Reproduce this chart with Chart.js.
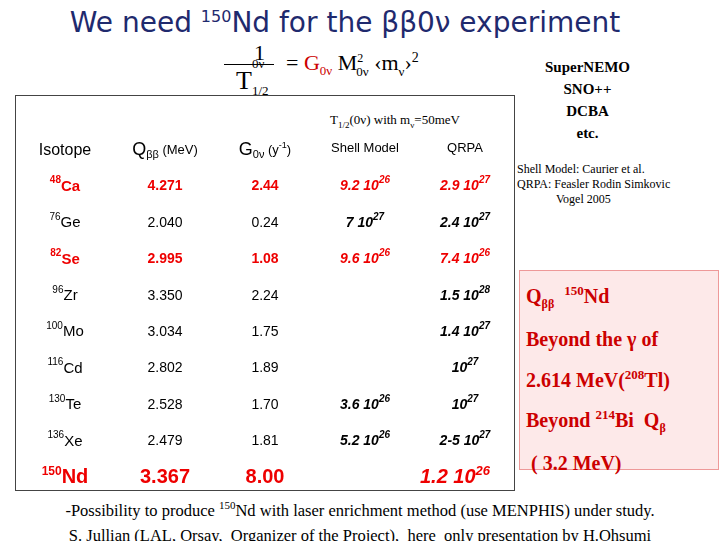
<!DOCTYPE html><html><head><meta charset="utf-8">
<script src="https://cdn.jsdelivr.net/npm/chart.js@4"></script>
<style>
body{margin:0;width:720px;height:541px;background:#fff;position:relative;overflow:hidden;font-family:"Liberation Serif",serif}
.a{position:absolute;white-space:nowrap}
</style></head><body>
<div class="a" style="left:0;width:690px;top:6px;text-align:center;font:28px 'DejaVu Sans',sans-serif;color:#1f2a6e">We need <sup style="font-size:16px">150</sup>Nd for the ββ0ν experiment</div>
<div class="a" style="left:224px;top:40px;font-size:22px">
<span style="position:absolute;left:30px;top:0">1</span>
<span style="position:absolute;left:0;top:24px;width:50px;border-top:1px solid #000"></span>
<span style="position:absolute;left:28px;top:16px;font-size:13px">0ν</span>
<span style="position:absolute;left:12px;top:26px;font-size:26px">T<sub style="font-size:13px">1/2</sub></span>
<span style="position:absolute;left:62px;top:10px">= <span style="color:#c00">G<sub style="font-size:13px">0ν</sub></span> M<sup style="font-size:12px">2</sup><sub style="font-size:13px;margin-left:-7px">0ν</sub> ‹m<sub style="font-size:13px">ν</sub>›<sup style="font-size:14px">2</sup></span></div>
<div class="a" style="left:545px;top:56px;font:bold 15px 'Liberation Serif';text-align:center;line-height:22px">SuperNEMO<br>SNO++<br>DCBA<br>etc.</div>
<div class="a" style="left:517px;top:162px;font-size:12px;line-height:15px">Shell Model: Caurier et al.<br>QRPA: Feasler Rodin Simkovic<br>&nbsp;&nbsp;&nbsp;&nbsp;&nbsp;&nbsp;&nbsp;&nbsp;&nbsp;&nbsp;&nbsp;&nbsp;&nbsp;Vogel 2005</div>
<div class="a" style="left:15px;top:95px;width:498px;height:394px;border:1px solid #444"></div>
<div class="a" style="left:330px;top:112px;font-size:13px">T<sub style="font-size:9px">1/2</sub>(0ν) with m<sub style="font-size:9px">ν</sub>=50meV</div>
<div class="a" style="left:519px;top:270px;width:200px;height:200px;background:#fde9e9;border:1px solid #e99;color:#c00;font:bold 20px 'Liberation Serif';line-height:35px;padding:2px 0 0 6px;box-sizing:border-box">Q<sub style="font-size:12px">ββ</sub>&nbsp; <sup style="font-size:13px">150</sup>Nd<br>Beyond the γ of<br>2.614 MeV(<sup style="font-size:13px">208</sup>Tl)<br>Beyond <sup style="font-size:13px">214</sup>Bi&nbsp; Q<sub style="font-size:12px">β</sub><br>&nbsp;( 3.2 MeV)</div>
<div class="a" style="left:0;width:720px;top:493px;text-align:center;font-size:16.5px;line-height:25px">-Possibility to produce <sup style="font-size:11px">150</sup>Nd with laser enrichment method (use MENPHIS) under study.<br>S. Jullian (LAL, Orsay,&nbsp; Organizer of the Project),&nbsp; here&nbsp; only presentation by H.Ohsumi</div>
<div class="a" style="left:15px;top:132px;width:500px;height:364px"><canvas id="c"></canvas></div>
<script>
const columns=['iso','q','g','sm','qrpa'];
const rows=['header','48','76','82','96','100','116','130','136','150'];
const massNumbers=['48','76','82','96','100','116','130','136','150'];
const symbols=['Ca','Ge','Se','Zr','Mo','Cd','Te','Xe','Nd'];
const qbb=['4.271','2.040','2.995','3.350','3.034','2.802','2.528','2.479','3.367'];
const g0v=['2.44','0.24','1.08','2.24','1.75','1.89','1.70','1.81','8.00'];
const shellModel=[['9.2','26'],['7','27'],['9.6','26'],null,null,null,['3.6','26'],['5.2','26'],null];
const qrpa=[['2.9','27'],['2.4','27'],['7.4','26'],['1.5','28'],['1.4','27'],['','27'],['','27'],['2-5','27'],['1.2','26']];
const redRows=['48','82','150'];
const pts=[];
columns.forEach(c=>rows.forEach(r=>pts.push({x:c,y:r})));
function drawParts(ctx,x,y,parts){
  let w=0;parts.forEach(p=>{ctx.font=p[1];w+=ctx.measureText(p[0]).width;});
  let cx=x-w/2;ctx.textAlign='left';
  parts.forEach(p=>{ctx.font=p[1];ctx.fillText(p[0],cx,y+p[2]);cx+=ctx.measureText(p[0]).width;});
}
const cellText={id:'cellText',afterDatasetsDraw(ch){
  const ctx=ch.ctx,xs=ch.scales.x,ys=ch.scales.y;ctx.save();ctx.textBaseline='middle';
  const SS='"Liberation Sans",sans-serif';
  pts.forEach(p=>{
    const x=xs.getPixelForValue(columns.indexOf(p.x)),y=ys.getPixelForValue(rows.indexOf(p.y));
    if(p.y==='header'){
      ctx.fillStyle='#000';
      if(p.x==='iso')drawParts(ctx,x,y,[['Isotope','16px '+SS,0]]);
      if(p.x==='q')drawParts(ctx,x,y,[['Q','18px '+SS,0],['ββ','11px '+SS,5],[' (MeV)','13px '+SS,0]]);
      if(p.x==='g')drawParts(ctx,x,y,[['G','18px '+SS,0],['0ν','11px '+SS,5],[' (y','13px '+SS,0],['-1','9px '+SS,-5],[')','13px '+SS,0]]);
      if(p.x==='sm')drawParts(ctx,x,y-2,[['Shell Model','13px '+SS,0]]);
      if(p.x==='qrpa')drawParts(ctx,x,y-2,[['QRPA','13px '+SS,0]]);
      return;
    }
    const i=massNumbers.indexOf(p.y),red=redRows.includes(p.y),nd=p.y==='150';
    ctx.fillStyle=red?'#e00':'#000';
    const sz=nd?20:14,b=red?'bold ':'';
    if(p.x==='iso')drawParts(ctx,x,y,[[massNumbers[i],b+(nd?12:10)+'px '+SS,-6],[symbols[i],b+(nd?20:15)+'px '+SS,0]]);
    if(p.x==='q')drawParts(ctx,x,y,[[qbb[i],b+sz+'px '+SS,0]]);
    if(p.x==='g')drawParts(ctx,x,y,[[g0v[i],b+sz+'px '+SS,0]]);
    const v=p.x==='sm'?shellModel[i]:p.x==='qrpa'?qrpa[i]:null;
    if(v){const f='italic bold '+sz+'px '+SS,fs='italic bold '+(nd?13:10)+'px '+SS;
      drawParts(ctx,x-(nd?10:0),y,[[(v[0]?v[0]+' ':'')+'10',f,0],[v[1],fs,-6]]);}
  });ctx.restore();}};
new Chart(document.getElementById('c'),{type:'scatter',
  data:{datasets:[{data:pts,pointRadius:0}]},
  options:{responsive:true,maintainAspectRatio:false,animation:false,
    layout:{padding:0},plugins:{legend:{display:false},tooltip:{enabled:false}},
    scales:{x:{type:'category',labels:columns,offset:true,display:false},
            y:{type:'category',labels:rows,offset:true,display:false}}},
  plugins:[cellText]});
</script></body></html>
